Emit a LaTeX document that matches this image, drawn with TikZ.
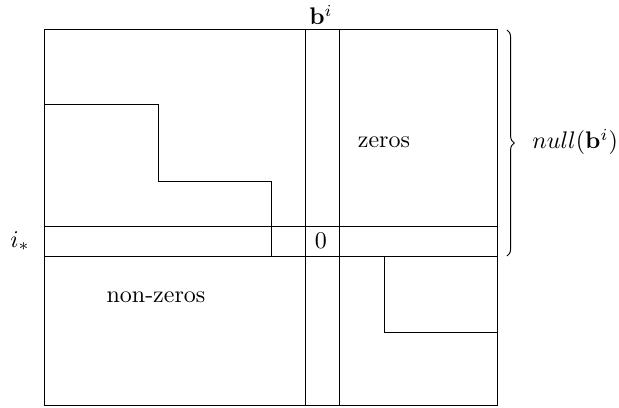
\documentclass[tikz,border=0pt]{standalone}
\usetikzlibrary{decorations.pathreplacing}
\begin{document}
\begin{tikzpicture}[x=0.4167pt,y=-0.4167pt,
  lbl/.style={inner sep=0pt},
  grid/.style={line width=0.4pt}]
\useasboundingbox (0,0) rectangle (619,408);
% outer matrix
\draw[grid] (44,29) rectangle (497,405);
% column b^i
\draw[grid] (305,29) -- (305,405);
\draw[grid] (339,29) -- (339,405);
% row i_*
\draw[grid] (44,226) -- (497,226);
\draw[grid] (44,256) -- (497,256);
% staircase upper left
\draw[grid] (44,104) -- (158,104) -- (158,181) -- (271,181) -- (271,256);
% staircase lower right
\draw[grid] (384,256) -- (384,332) -- (497,332);
% labels
\node[lbl] (bi) at (321,15) {$\mathbf{b}^i$};
\node[lbl] (zeros) at (384,142) {zeros};
\node[lbl] (zero) at (321,241) {$0$};
\node[lbl] (istar) at (20,241) {$i_*$};
\node[lbl] (nonzeros) at (156,297) {non-zeros};
\coordinate (bt) at (507,30);
\coordinate (bb) at (507,256);
\draw[decorate,decoration={brace,amplitude=3pt}] (bt) -- (bb);
\node[lbl,anchor=west] (null) at (532,142) {$null(\mathbf{b}^i)$};
\end{tikzpicture}
\end{document}
